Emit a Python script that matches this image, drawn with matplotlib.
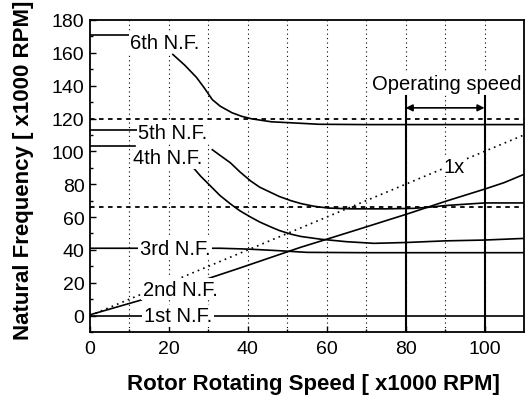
import numpy as np
import matplotlib
matplotlib.use("Agg")
import matplotlib.pyplot as plt

plt.rcParams['font.family'] = ['Liberation Sans', 'DejaVu Sans']

# natural frequency curves [x1000 RPM] vs rotor speed [x1000 RPM]
nf1_x = [0, 110]
nf1_y = [0, 0]

nf2_x_a = [0, 13]
nf2_y_a = [0.5, 9.5]
nf2_x_b = [30, 37.4, 53.4, 60, 70, 80.3, 90, 100, 105, 110]
nf2_y_b = [22.6, 28.5, 41.6, 46.5, 54, 61.8, 69.5, 77, 81, 86]

nf3_x = [0, 14, 33, 40, 48, 55, 70, 110]
nf3_y = [41, 41, 41, 40.5, 39.5, 38.5, 38.3, 38.3]

nf4_x_a = [0, 11.5]
nf4_y_a = [103.5, 103.5]
nf4_x_b = [26.2, 28, 30.5, 33, 35.6, 38, 40.7, 43, 45.8, 48, 50.9, 53.4, 58.5, 65, 72, 80, 90, 100, 110]
nf4_y_b = [90, 85, 79, 73, 68, 63.8, 60, 57, 54, 51.8, 49.6, 48.2, 46.5, 45, 44, 44.5, 45.5, 46, 47]

nf5_x_a = [0, 12]
nf5_y_a = [113, 113]
nf5_x_b = [31, 33, 35.6, 38, 40.7, 43, 45.8, 48, 50.9, 53.5, 56.7, 60.3, 66, 75, 82, 86, 90, 100, 110]
nf5_y_b = [101, 97.5, 93, 87.5, 82, 78.2, 75, 72.5, 70, 68.2, 66.6, 65.5, 65, 65, 65.3, 66, 67, 68.6, 68.6]

nf6_x_a = [0, 10]
nf6_y_a = [171, 171]
nf6_x_b = [21, 24, 27, 29, 31, 33, 36, 38.5, 41, 46, 51, 58, 70, 110]
nf6_y_b = [159, 152.5, 145, 138.5, 131.5, 127.5, 123.5, 121.3, 119.8, 118, 117.4, 116.5, 116.3, 116.3]

one_x = [0, 110]
one_y = [0, 110]

dashed_levels = [120, 66.3]
op_range = [80, 100]

labels = ["1st N.F.", "2nd N.F.", "3rd N.F.", "4th N.F.", "5th N.F.", "6th N.F."]
label_x = [22.3, 22.8, 21.5, 19.8, 21.0, 19.0]
label_y = [0, 16, 41, 96, 111.5, 166.5]

fig = plt.figure(figsize=(5.27, 4.02), dpi=100)
ax = fig.add_axes([0.1708, 0.1716, 0.8235, 0.7762])

# dotted vertical grid
for gx in range(10, 110, 10):
    ax.axvline(gx, color='k', lw=0.8, ls=(0, (1, 3)), zorder=1)

lw = 1.2
for xs, ys in [(nf1_x, nf1_y), (nf2_x_a, nf2_y_a), (nf2_x_b, nf2_y_b),
               (nf3_x, nf3_y), (nf4_x_a, nf4_y_a), (nf4_x_b, nf4_y_b),
               (nf5_x_a, nf5_y_a), (nf5_x_b, nf5_y_b),
               (nf6_x_a, nf6_y_a), (nf6_x_b, nf6_y_b)]:
    ax.plot(xs, ys, color='k', lw=lw, zorder=3)

ax.plot(one_x, one_y, color='k', lw=1.2, ls=(0, (1, 2.5)), zorder=2)

for lv in dashed_levels:
    ax.axhline(lv, color='k', lw=1.3, ls=(0, (2.5, 2.5)), zorder=2)

for ox in op_range:
    ax.plot([ox, ox], [-10, 133.5], color='k', lw=1.5, zorder=3)

ax.annotate('', xy=(op_range[0], 126.5), xytext=(op_range[1], 126.5),
            arrowprops=dict(arrowstyle='<|-|>', lw=1.2, color='k',
                            mutation_scale=10, shrinkA=0, shrinkB=0), zorder=4)
ax.text(90.3, 141.5, "Operating speed", fontsize=14.5, ha='center', va='center',
        bbox=dict(facecolor='white', edgecolor='none', pad=0.5), zorder=5)
ax.text(92.4, 91, "1x", fontsize=14.5, ha='center', va='center',
        bbox=dict(facecolor='white', edgecolor='none', pad=0.5), zorder=5)

for t, lx, ly in zip(labels, label_x, label_y):
    ax.text(lx, ly, t, fontsize=14.5, ha='center', va='center',
            bbox=dict(facecolor='white', edgecolor='none', pad=1.0), zorder=5)

ax.set_xlim(0, 110)
ax.set_ylim(-10, 180)
ax.set_xticks([0, 20, 40, 60, 80, 100])
ax.set_yticks(np.arange(0, 181, 20))
ax.set_xticks(np.arange(10, 110, 20), minor=True)
ax.set_yticks(np.arange(-10, 180, 20), minor=True)
ax.tick_params(which='both', direction='in', labelsize=14)
ax.tick_params(which='major', length=4, width=1)
ax.tick_params(which='minor', length=2.5, width=1)
ax.tick_params(axis='x', pad=6)
ax.tick_params(axis='y', pad=4)
for s in ax.spines.values():
    s.set_linewidth(1.3)

ax.set_xlabel("Rotor Rotating Speed [ x1000 RPM]", fontsize=16, fontweight='bold')
ax.set_ylabel("Natural Frequency [ x1000 RPM]", fontsize=16, fontweight='bold')
ax.xaxis.set_label_coords(0.514, -0.13)
ax.yaxis.set_label_coords(-0.13, 0.522)

fig.savefig("out.png", dpi=100)
